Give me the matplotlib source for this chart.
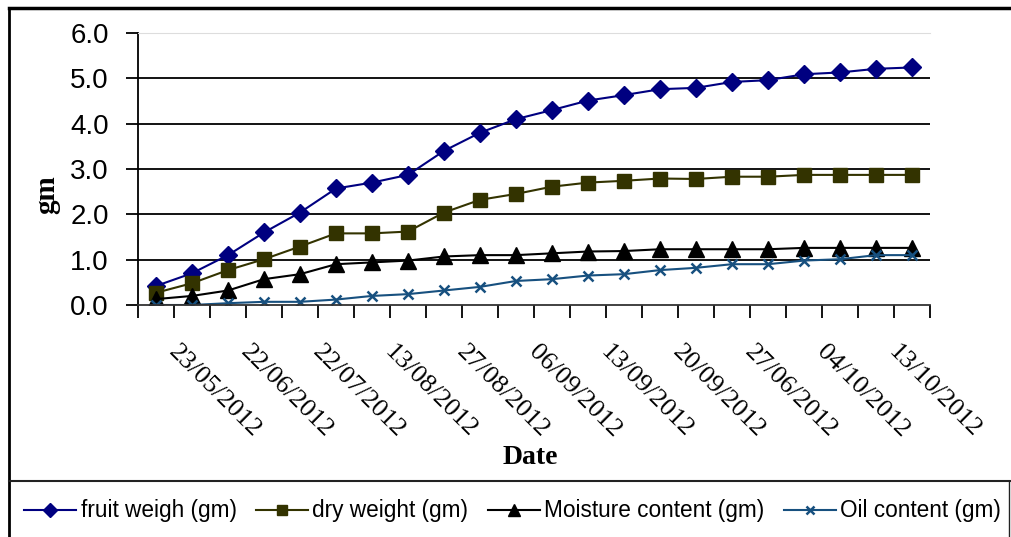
import matplotlib
matplotlib.use("Agg")
import matplotlib.pyplot as plt
from matplotlib.lines import Line2D
from matplotlib.transforms import ScaledTranslation

# data (22 sampling dates, every other one labelled)
tick_labels = ["23/05/2012", "22/06/2012", "22/07/2012", "13/08/2012", "27/08/2012",
               "06/09/2012", "13/09/2012", "20/09/2012", "27/06/2012", "04/10/2012",
               "13/10/2012"]
fruit = [0.42, 0.70, 1.10, 1.60, 2.04, 2.57, 2.70, 2.87, 3.40, 3.80, 4.10,
         4.30, 4.51, 4.63, 4.76, 4.79, 4.92, 4.96, 5.09, 5.13, 5.21, 5.24]
dry = [0.27, 0.48, 0.77, 1.01, 1.29, 1.58, 1.58, 1.62, 2.04, 2.32, 2.45,
       2.61, 2.70, 2.74, 2.79, 2.78, 2.83, 2.83, 2.87, 2.87, 2.87, 2.87]
moisture = [0.13, 0.20, 0.32, 0.57, 0.68, 0.90, 0.94, 0.98, 1.07, 1.10, 1.10,
            1.14, 1.18, 1.19, 1.23, 1.23, 1.23, 1.23, 1.26, 1.26, 1.26, 1.26]
oil = [0.00, 0.00, 0.04, 0.07, 0.07, 0.12, 0.20, 0.24, 0.32, 0.40, 0.53,
       0.57, 0.65, 0.68, 0.77, 0.82, 0.90, 0.90, 0.98, 1.01, 1.10, 1.10]

W, H = 1011, 537
fig = plt.figure(figsize=(W / 100, H / 100), dpi=100)
ax = fig.add_axes([138 / W, 1 - 305 / H, (930 - 138) / W, (305 - 33) / H])

x = list(range(len(fruit)))
ax.plot(x, fruit, color="#000080", lw=1.5, marker="D", ms=9, label="fruit weigh (gm)")
ax.plot(x, dry, color="#333300", lw=1.5, marker="s", ms=9.5, label="dry weight (gm)")
ax.plot(x, moisture, color="black", lw=1.5, marker="^", ms=11, label="Moisture content (gm)")
ax.plot(x, oil, color="#17507f", lw=1.5, marker="x", ms=7.5, mew=1.8, label="Oil content (gm)")

ax.set_xlim(-0.5, len(fruit) - 0.5)
ax.set_ylim(0, 6)
for v in range(1, 6):
    ax.axhline(v, color="black", lw=1.3, zorder=0)

ax.spines["right"].set_visible(False)
ax.spines["top"].set_color("#dddddd")
ax.spines["left"].set_linewidth(1.3)
ax.spines["bottom"].set_linewidth(1.3)
ax.spines["bottom"].set_color("#333333")

ax.set_yticks(range(7))
ax.set_yticklabels([f"{v:.1f}" for v in range(7)], fontsize=20, family="Liberation Sans")
ax.tick_params(axis="y", direction="out", length=9, width=1.3, pad=12)

ax.set_xticks([i - 0.5 for i in range(len(fruit) + 1)], minor=True)
ax.tick_params(axis="x", which="minor", direction="out", length=9, width=1.3)
ax.set_xticks(list(range(1, len(fruit), 2)))
ax.set_xticklabels(tick_labels, rotation=-45, ha="left", va="top",
                   fontsize=19, family="Liberation Serif")
ax.tick_params(axis="x", which="major", length=0, pad=26)
for lab in ax.get_xticklabels():
    lab.set_transform(lab.get_transform() + ScaledTranslation(-0.28, 0, fig.dpi_scale_trans))

fig.text(47 / W, 1 - 195 / H, "gm", rotation=90, ha="center", va="center",
         fontsize=21, fontweight="bold", family="Liberation Serif")
fig.text(530 / W, 1 - 458 / H, "Date", ha="center", va="center",
         fontsize=20, fontweight="bold", family="Liberation Serif")

fig.legend(loc="center", bbox_to_anchor=(0.507, 1 - 511 / H), ncol=4, frameon=False,
           prop={"family": "Liberation Sans", "size": 16.3}, handlelength=2.3,
           handletextpad=0.2, columnspacing=0.85, markerscale=0.75)

# chart frame and legend box
fig.add_artist(Line2D([9 / W, 1], [1 - 8 / H, 1 - 8 / H], color="black", lw=2.5))
fig.add_artist(Line2D([9 / W, 9 / W], [0, 1 - 8 / H], color="black", lw=2))
fig.add_artist(Line2D([9 / W, 1], [1 - 481 / H, 1 - 481 / H], color="#222222", lw=1.5))
fig.add_artist(Line2D([1009 / W, 1009 / W], [0, 1 - 481 / H], color="#222222", lw=1))

fig.savefig("out.png", dpi=100)
